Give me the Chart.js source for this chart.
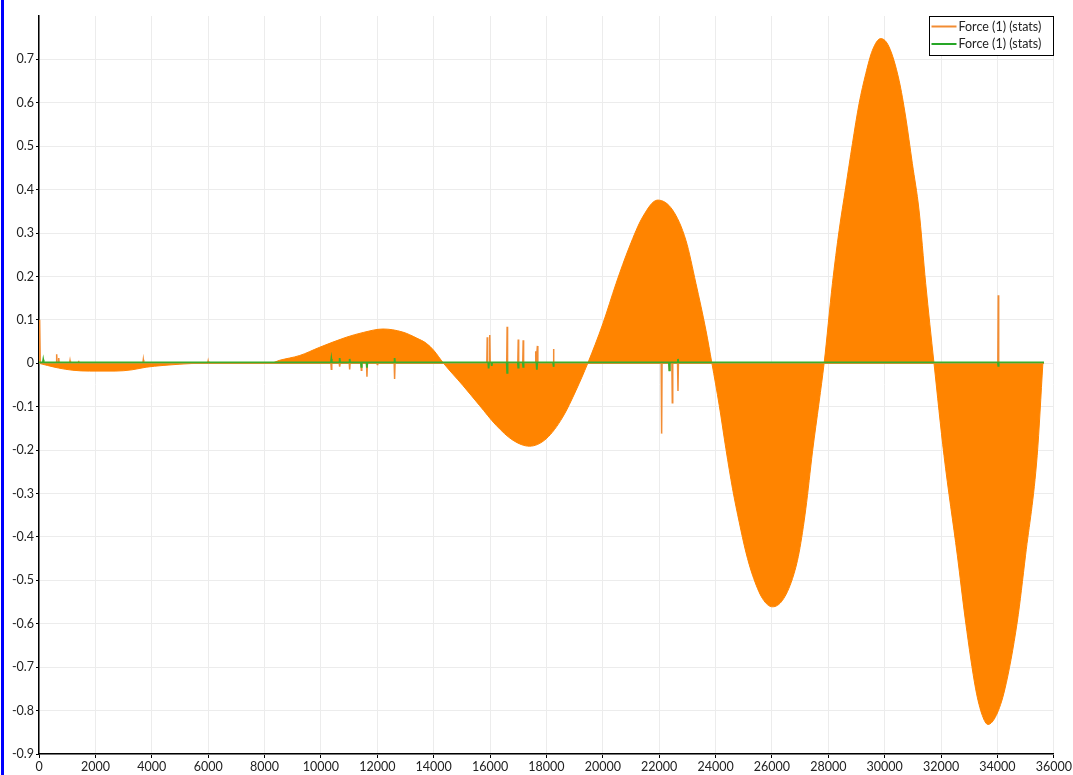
<!DOCTYPE html>
<html>
<head>
<meta charset="utf-8">
<script src="https://cdn.jsdelivr.net/npm/chart.js@4"></script>
<style>
  body { margin: 0; background: #fff; }
  #wrap { position: relative; width: 1073px; height: 775px; }
  #edge { position: absolute; left: 1px; top: 0; width: 3px; height: 775px; background: #0000ff; }
</style>
</head>
<body>
<div id="wrap">
  <canvas id="forceChart" width="1073" height="775"></canvas>
  <div id="edge"></div>
</div>
<script>
// envelope of the fast oscillating orange trace
const envX = [0, 300, 700, 1200, 1800, 2700, 3300, 3800, 4400, 5000, 5800,
  8200, 8540, 9250, 9960, 10900, 11500, 12200, 12900, 13400, 13740, 14000, 14350,
  15035, 15625, 16218, 16806, 17398, 17990, 18578, 19052, 19465,
  20000, 20470, 20941, 21413, 21945, 22476, 22949, 23303, 23658, 23870,
  24130, 24366, 24602, 24839, 25075, 25311, 25665, 26020, 26374, 26728, 26965, 27201, 27437, 27673, 27850,
  28145, 28382, 28618, 28854, 29090, 29327, 29563, 29858, 30153, 30508, 30744, 30980, 31216, 31453, 31748,
  32102, 32575, 32870, 33225, 33461, 33661, 33957, 34264, 34700, 34996, 35409, 35610];
const envY = [0, -0.005, -0.011, -0.016, -0.018, -0.018, -0.015, -0.009, -0.005, -0.002, 0,
  0, 0.007, 0.018, 0.037, 0.06, 0.071, 0.079, 0.072, 0.058, 0.046, 0.03, 0,
  -0.051, -0.097, -0.143, -0.177, -0.191, -0.174, -0.124, -0.062, 0,
  0.091, 0.184, 0.268, 0.337, 0.376, 0.353, 0.283, 0.184, 0.076, 0,
  -0.097, -0.197, -0.289, -0.366, -0.435, -0.488, -0.542, -0.561, -0.546, -0.496, -0.435, -0.335, -0.204, -0.089, 0,
  0.184, 0.306, 0.406, 0.506, 0.598, 0.667, 0.721, 0.748, 0.729, 0.652, 0.567, 0.46, 0.353, 0.184, 0,
  -0.212, -0.442, -0.596, -0.75, -0.811, -0.832, -0.811, -0.75, -0.596, -0.442, -0.212, 0];

// isolated spikes of the orange trace
const orangeSpikeX = [30, 627, 700, 1100, 1400, 3700, 6000,
  10370, 10665, 11020, 11434, 11633, 12000, 12614,
  15900, 15990, 16606, 17000, 17175, 17620, 17680, 18250,
  22086, 22360, 22465, 22666, 34027];
const orangeSpikeY = [0.1, 0.021, 0.012, 0.006, 0.006, 0.008, 0.005,
  -0.014, -0.008, -0.014, -0.016, -0.031, -0.003, -0.036,
  0.06, 0.065, 0.084, 0.055, 0.053, 0.028, 0.04, 0.033,
  -0.162, -0.016, -0.091, -0.064, 0.157];

// spikes of the green trace
const greenSpikeX = [150, 10370, 10665, 11020, 11434, 11633, 12614,
  15950, 16060, 16606, 17000, 17175, 17660, 18250, 22360, 22666, 32900, 34027];
const greenSpikeY = [0.008, 0.01, 0.012, 0.01, -0.008, -0.01, 0.012,
  -0.012, -0.006, -0.022, -0.01, -0.008, -0.015, -0.008, -0.016, 0.01, 0.004, -0.006];

const traceEnd = 35650;
const seriesName = 'Force (1) (stats)';

function spikeTrace(xs, ys, base) {
    const pts = [{x: 0, y: base}];
    xs.forEach((x, i) => {
        pts.push({x: x - 15, y: base}, {x: x, y: ys[i]}, {x: x + 15, y: base});
    });
    pts.push({x: traceEnd, y: base});
    return pts;
}

const isTop = v => Math.abs(v - 0.8) < 1e-9;

const legendBox = {
    id: 'legendBox',
    afterDraw(chart) {
        const c = chart.ctx;
        const a = chart.chartArea;
        const w = 124, h = 39;
        const x = Math.round(a.right - w - 1) + 0.5, y = Math.round(a.top) + 0.5;
        c.save();
        c.fillStyle = '#fff';
        c.fillRect(x, y, w, h);
        c.strokeStyle = '#000';
        c.lineWidth = 1;
        c.strokeRect(x, y, w, h);
        c.font = '12.5px Lato';
        c.textBaseline = 'middle';
        [['#f28c33', 10], ['#26a626', 27.5]].forEach(([col, dy]) => {
            c.strokeStyle = col;
            c.lineWidth = 2;
            c.beginPath();
            c.moveTo(x + 2, y + dy);
            c.lineTo(x + 27, y + dy);
            c.stroke();
            c.fillStyle = '#222';
            c.fillText(seriesName, x + 29, y + dy);
        });
        c.restore();
    }
};

Chart.defaults.font.family = 'Lato';
Chart.defaults.font.size = 12;

new Chart(document.getElementById('forceChart'), {
    type: 'line',
    data: {
        datasets: [{
            label: seriesName,
            data: spikeTrace(greenSpikeX, greenSpikeY, 0.002),
            borderColor: '#3aae2a',
            borderWidth: 1.8,
            pointRadius: 0,
            fill: false,
            order: 0
        }, {
            label: seriesName,
            data: spikeTrace(orangeSpikeX, orangeSpikeY, 0),
            borderColor: '#f28c33',
            borderWidth: 1.5,
            pointRadius: 0,
            fill: false,
            order: 1
        }, {
            label: 'envelope',
            data: envX.map((x, i) => ({x: x, y: envY[i]})),
            borderColor: '#ff8400',
            backgroundColor: '#ff8400',
            borderWidth: 1,
            pointRadius: 0,
            cubicInterpolationMode: 'monotone',
            fill: 'origin',
            order: 2
        }]
    },
    options: {
        responsive: false,
        animation: false,
        layout: { padding: { top: 16, right: 18, left: 0, bottom: 0 } },
        plugins: { legend: { display: false }, tooltip: { enabled: false } },
        scales: {
            x: {
                type: 'linear',
                min: 0,
                max: 36000,
                afterFit: s => { s.height = 21; },
                ticks: {
                    stepSize: 2000, color: '#222', padding: 1, maxRotation: 0, autoSkip: false,
                    font: { size: 12.5 },
                    callback: v => String(v)
                },
                grid: { color: '#ececec', tickColor: '#000', tickLength: 4 },
                border: { color: '#000', width: 1.5 }
            },
            y: {
                min: -0.9,
                max: 0.8,
                afterFit: s => { s.width = 39; },
                ticks: {
                    stepSize: 0.1,
                    color: '#222',
                    padding: 2,
                    font: { size: 12.5 },
                    callback: v => isTop(v) ? '' : String(Math.round(v * 10) / 10)
                },
                grid: {
                    color: c => c.tick && isTop(c.tick.value) ? 'rgba(0,0,0,0)' : '#ececec',
                    tickColor: c => c.tick && isTop(c.tick.value) ? 'rgba(0,0,0,0)' : '#000',
                    tickLength: 3
                },
                border: { color: '#000', width: 1.5 }
            }
        }
    },
    plugins: [legendBox]
});
</script>
</body>
</html>
